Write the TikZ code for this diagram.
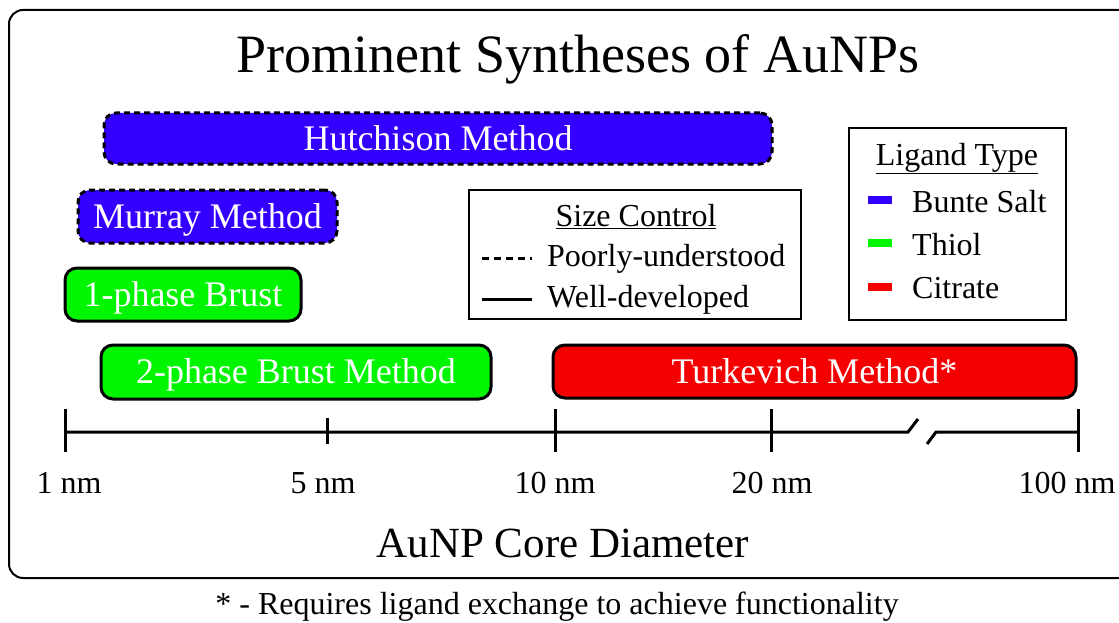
\documentclass[tikz,border=0pt]{standalone}
\usepackage{fontspec}
\setmainfont{Liberation Serif}
\usepackage{tikz}
\usetikzlibrary{positioning, calc}
\usepackage{xcolor}
\definecolor{bunte}{RGB}{51,0,255}
\definecolor{thiol}{RGB}{0,245,0}
\definecolor{citrate}{RGB}{245,0,0}

\begin{document}
\begin{tikzpicture}[x=1pt, y=-1pt,
    method/.style={draw=black, line width=3pt, rounded corners=12pt, text=white, inner sep=0pt, text height=23.5pt, text depth=0pt, font=\fontsize{36}{40}\selectfont},
    poorly/.style={method, dash pattern=on 6pt off 4pt},
    legendbox/.style={draw=black, line width=1.5pt, inner sep=0pt},
    legendtext/.style={anchor=base west, inner sep=0pt, font=\fontsize{32}{36}\selectfont},
    ticklabel/.style={anchor=base, inner sep=0pt, font=\fontsize{32}{36}\selectfont},
    axisline/.style={line width=3pt},
    swatch/.style={line width=8pt}]

    \useasboundingbox (0,0) rectangle (1119,623);

    % Ramka i tytul
    \draw[line width=2pt, rounded corners=14pt] (1119,10) -- (9,10) -- (9,578) -- (1119,578);
    \node[anchor=base, inner sep=0pt, font=\fontsize{54}{58}\selectfont] (title) at (578,73) {Prominent Syntheses of AuNPs};

    % Metody syntezy
    \node[poorly, fill=bunte, minimum width=668, minimum height=51] (hutchison) at (438,138.5) {Hutchison Method};
    \node[poorly, fill=bunte, minimum width=259, minimum height=53] (murray) at (207.5,216.5) {Murray Method};
    \node[method, fill=thiol, minimum width=236, minimum height=53] (brustone) at (183,294.5) {1-phase Brust};
    \node[method, fill=thiol, minimum width=390, minimum height=54] (brusttwo) at (296,372) {2-phase Brust Method};
    \node[method, fill=citrate, minimum width=523, minimum height=53] (turkevich) at (814.5,371.5) {Turkevich Method*};

    % Legenda: kontrola rozmiaru
    \node[legendbox, minimum width=332, minimum height=129] (sizebox) at (635,254.5) {};
    \node[ticklabel] (sizetitle) at (636,226) {\underline{Size Control}};
    \coordinate (poorlyA) at (482,258);
    \coordinate (poorlyB) at (532,258);
    \coordinate (wellA) at (482,299);
    \coordinate (wellB) at (532,299);
    \draw[line width=3pt, dash pattern=on 7pt off 5pt] (poorlyA) -- (poorlyB);
    \draw[line width=3pt] (wellA) -- (wellB);
    \node[legendtext] (poorlytext) at (547,266) {Poorly-understood};
    \node[legendtext] (welltext) at (547,307) {Well-developed};

    % Legenda: typ liganda
    \node[legendbox, minimum width=217, minimum height=192] (ligandbox) at (957.5,224) {};
    \node[ticklabel] (ligandtitle) at (957,165) {\underline{Ligand Type}};
    \foreach \name/\col/\yy in {bunte/bunte/200, thiol/thiol/243, citrate/citrate/287} {
        \coordinate (\name A) at (868,\yy);
        \coordinate (\name B) at (892,\yy);
        \draw[swatch, \col] (\name A) -- (\name B);
    }
    \node[legendtext] (buntetext) at (912,212) {Bunte Salt};
    \node[legendtext] (thioltext) at (912,255) {Thiol};
    \node[legendtext] (citratetext) at (912,298) {Citrate};

    % Os srednicy
    \coordinate (t1) at (65,432);
    \coordinate (t5) at (327,432);
    \coordinate (t10) at (555,432);
    \coordinate (t20) at (771,432);
    \coordinate (t100) at (1078,432);
    \coordinate (breakA) at (908,432);
    \coordinate (breakB) at (918,419);
    \coordinate (breakC) at (927,444);
    \coordinate (breakD) at (936,432);
    \draw[axisline] (t1) -- (t20) -- (breakA) -- (breakB);
    \draw[axisline] (breakC) -- (breakD) -- (t100);
    \foreach \t in {t1, t10, t20, t100}
        \draw[axisline] ($(\t)+(0,-23)$) -- ($(\t)+(0,20)$);
    \draw[axisline] ($(t5)+(0,-14)$) -- ($(t5)+(0,12)$);

    \node[ticklabel] (l1) at (69,493) {1 nm};
    \node[ticklabel] (l5) at (323,493) {5 nm};
    \node[ticklabel] (l10) at (555,493) {10 nm};
    \node[ticklabel] (l20) at (772,493) {20 nm};
    \node[ticklabel] (l100) at (1067,493) {100 nm};

    \node[anchor=base, inner sep=0pt, font=\fontsize{43}{48}\selectfont] (axistitle) at (563,557) {AuNP Core Diameter};

    % Przypis
    \node[anchor=base, inner sep=0pt, font=\fontsize{32}{36}\selectfont] (footnote) at (557,614) {* - Requires ligand exchange to achieve functionality};

\end{tikzpicture}
\end{document}
